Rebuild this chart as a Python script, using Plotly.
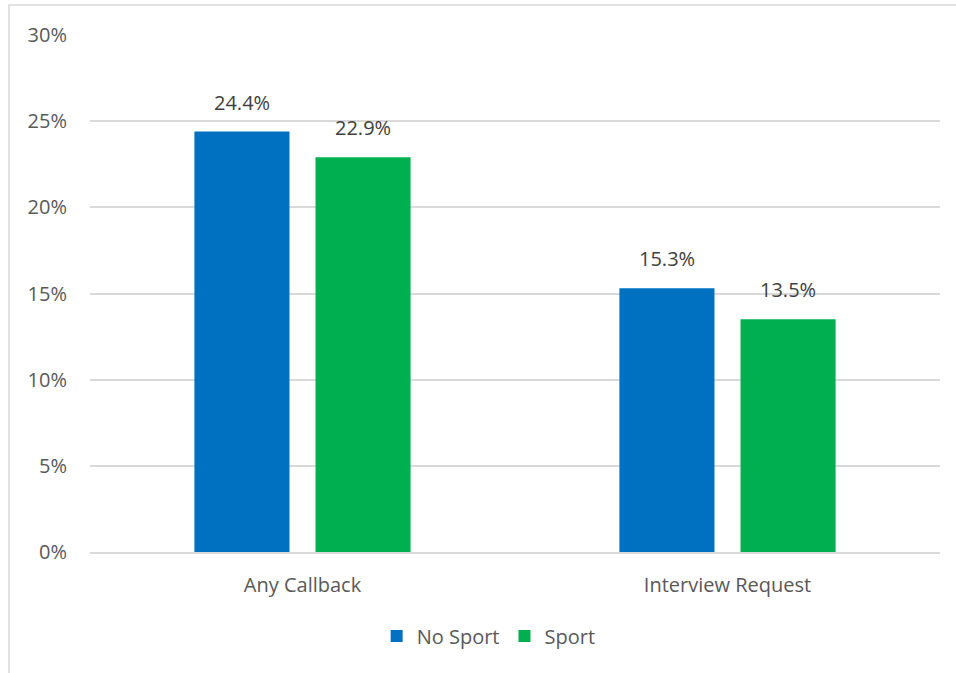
import plotly.graph_objects as go

categories = ["Any Callback", "Interview Request"]
no_sport = [24.4, 15.3]
sport = [22.9, 13.5]
tick_vals = [0, 5, 10, 15, 20, 25, 30]
tick_text = ["0%", "5%", "10%", "15%", "20%", "25%", "30%"]

FONT = "Open Sans"
SIZE = 20

# group geometry (used for both bars and their value labels)
BARGAP = 0.43
GROUPGAP = 0.215
MARGIN_L, MARGIN_R = 90, 16
WIDTH = 956
plot_w = WIDTH - MARGIN_L - MARGIN_R
slot_px = plot_w / len(categories) * (1 - BARGAP) / 2

series = [("No Sport", no_sport, "#0070C0"), ("Sport", sport, "#00B050")]

fig = go.Figure()
annotations = []
for i, (name, vals, color) in enumerate(series):
    fig.add_trace(go.Bar(
        name=name, x=categories, y=vals, marker_color=color, marker_line_width=0,
    ))
    shift = (i - (len(series) - 1) / 2) * slot_px
    for cat, v in zip(categories, vals):
        annotations.append(dict(
            x=cat, y=v, xref="x", yref="y", text=f"{v:.1f}%", showarrow=False,
            xshift=shift, yshift=14, yanchor="bottom",
            font=dict(family=FONT, size=SIZE, color="#404040"),
        ))

fig.update_layout(
    width=WIDTH, height=673,
    margin=dict(l=MARGIN_L, r=MARGIN_R, t=35, b=121),
    paper_bgcolor="white", plot_bgcolor="white",
    barmode="group", bargap=BARGAP, bargroupgap=GROUPGAP,
    font=dict(family=FONT, size=SIZE, color="#595959"),
    showlegend=True,
    legend=dict(orientation="h", x=0.469, xanchor="center", y=-0.1625, yanchor="middle",
                font=dict(family=FONT, size=SIZE, color="#595959"), itemwidth=30,
                traceorder="normal"),
    xaxis=dict(showgrid=False, showline=True, linecolor="#D9D9D9", linewidth=1.5,
               ticks="", ticklabelstandoff=14),
    yaxis=dict(range=[0, 30], tickvals=tick_vals, ticktext=tick_text,
               showgrid=True, gridcolor="#D9D9D9", gridwidth=1.5, zeroline=False,
               showline=False, ticks="", ticklabelstandoff=22),
    annotations=annotations,
    shapes=[dict(type="rect", xref="paper", yref="paper",
                 x0=-0.0953, x1=1.03, y0=-0.26, y1=1.058,
                 line=dict(color="#D9D9D9", width=1.5), layer="below")],
)

fig.write_html("out.html")
